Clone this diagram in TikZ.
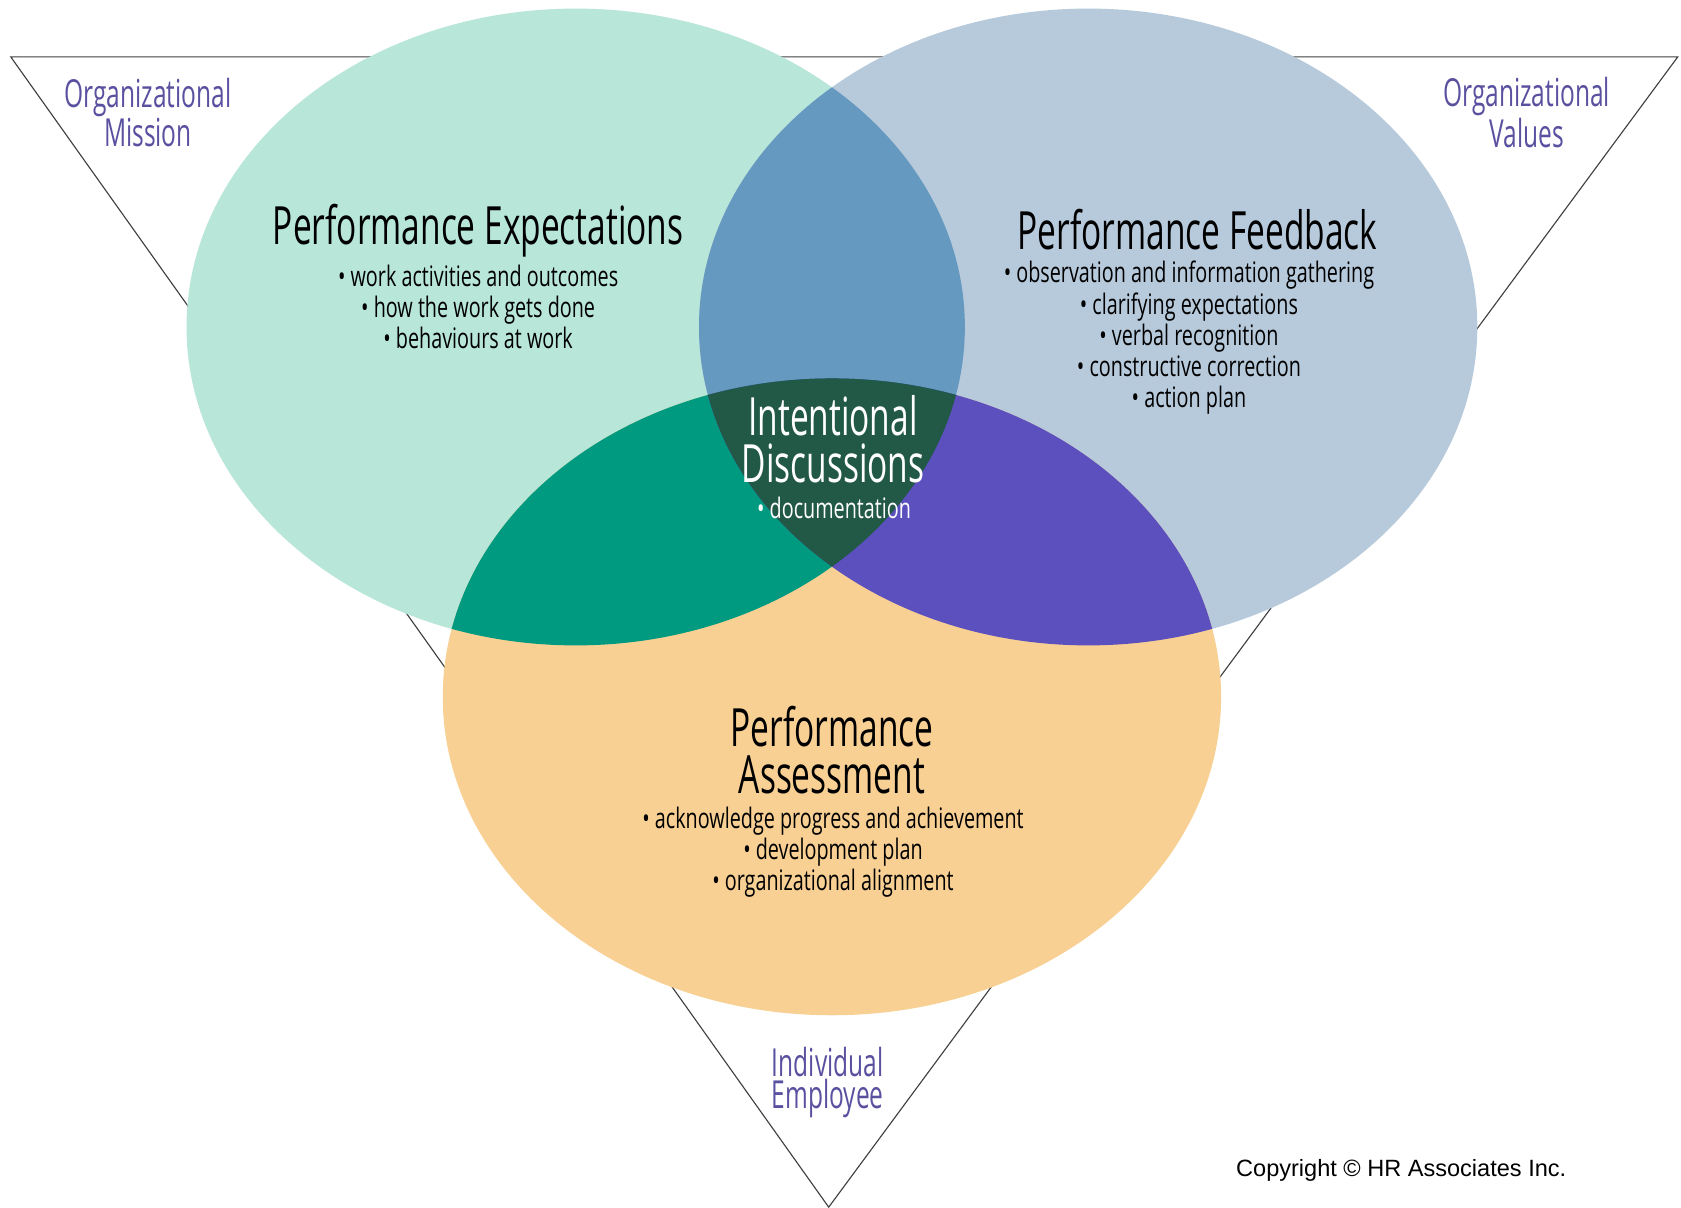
\documentclass[tikz,border=0pt]{standalone}
\usepackage{fontspec}
\setmainfont{Liberation Sans}
\newfontfamily\headfont[FakeStretch=0.635]{Open Sans}
\newfontfamily\listfont[FakeStretch=0.7]{Open Sans}
\usetikzlibrary{positioning}
\definecolor{expgreen}{RGB}{184,230,216}
\definecolor{fbblue}{RGB}{183,202,220}
\definecolor{asorange}{RGB}{248,208,148}
\definecolor{gbmix}{RGB}{102,153,192}
\definecolor{gomix}{RGB}{0,154,128}
\definecolor{bomix}{RGB}{91,80,190}
\definecolor{coremix}{RGB}{33,88,70}
\definecolor{sidepurple}{RGB}{90,80,160}

\begin{document}
\begin{tikzpicture}[x=0.02cm,y=-0.02cm,
    title node/.style={font=\headfont\fontsize{28}{25}\selectfont,align=center,inner sep=0pt},
    item node/.style={font=\listfont\fontsize{15}{16.5}\selectfont,align=center,inner sep=0pt},
    side node/.style={font=\headfont\fontsize{20.5}{17}\selectfont,text=sidepurple,align=center,inner sep=0pt}]
  \useasboundingbox (0,0) rectangle (1568,1126);
  \fill[white] (0,0) rectangle (1568,1126);

  % big triangle behind the circles
  \draw[line width=0.6pt,black!75] (10,53) -- (1565,53) -- (773,1126) -- cycle;

  % the three ellipses
  \fill[expgreen] (537,305) ellipse [x radius=363,y radius=297];
  \fill[fbblue] (1015,305) ellipse [x radius=363,y radius=297];
  \fill[asorange] (776,650) ellipse [x radius=363,y radius=297];

  % overlaps
  \begin{scope}
    \clip (537,305) ellipse [x radius=363,y radius=297];
    \fill[gbmix] (1015,305) ellipse [x radius=363,y radius=297];
    \fill[gomix] (776,650) ellipse [x radius=363,y radius=297];
  \end{scope}
  \begin{scope}
    \clip (1015,305) ellipse [x radius=363,y radius=297];
    \fill[bomix] (776,650) ellipse [x radius=363,y radius=297];
  \end{scope}
  \begin{scope}
    \clip (537,305) ellipse [x radius=363,y radius=297];
    \clip (1015,305) ellipse [x radius=363,y radius=297];
    \fill[coremix] (776,650) ellipse [x radius=363,y radius=297];
  \end{scope}

  % texts
  \node[title node] (pe) at (446,215) {Performance Expectations};
  \node[item node] (pei) at (446,286) {• work activities and outcomes\\
    • how the work gets done\\ • behaviours at work};

  \node[title node] (pf) at (1117,214) {Performance Feedback};
  \node[item node] (pfi) at (1109,315) {• observation and information gathering\\
    • clarifying expectations\\ • verbal recognition\\
    • constructive correction\\ • action plan};

  \node[title node,text=white] (id) at (777,410) {Intentional\\Discussions};
  \node[item node,text=white] (idi) at (778,474) {• documentation};

  \node[title node] (pa) at (776,700) {Performance\\Assessment};
  \node[item node] (pai) at (777,795) {• acknowledge progress and achievement\\
    • development plan\\ • organizational alignment};

  \node[side node] (om) at (138,105) {Organizational\\Mission};
  \node[side node] (ov) at (1424,105) {Organizational\\Values};
  \node[side node] (ie) at (772,1010) {Individual\\Employee};

  \node[font=\fontsize{12.5}{14}\selectfont,inner sep=0pt] (copy) at (1307,1092) {Copyright \textcopyright{} HR Associates Inc.};
\end{tikzpicture}
\end{document}
